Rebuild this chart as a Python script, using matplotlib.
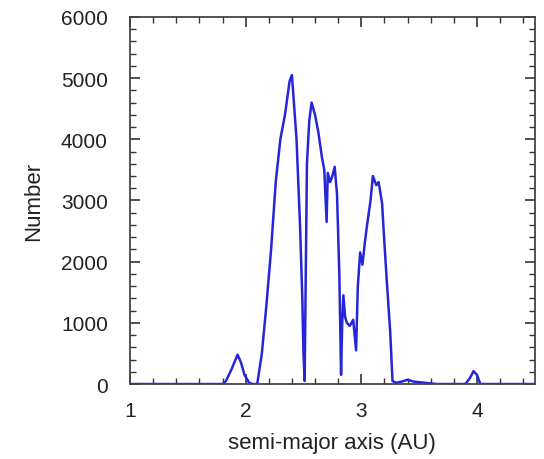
import numpy as np
import matplotlib
matplotlib.use("Agg")
import matplotlib.pyplot as plt
from matplotlib.ticker import MultipleLocator

plt.rcParams['font.family'] = ['Liberation Sans', 'DejaVu Sans']

# semi-major axis (AU) and number of asteroids
semieje = [1.0, 1.8, 1.83, 1.88, 1.93, 1.96, 1.99, 2.03, 2.06, 2.10, 2.14, 2.18,
           2.22, 2.26, 2.30, 2.34, 2.38, 2.40, 2.44, 2.47, 2.49, 2.50, 2.51, 2.53,
           2.55, 2.57, 2.60, 2.63, 2.66, 2.68, 2.70, 2.71, 2.73, 2.75, 2.77, 2.79,
           2.81, 2.825, 2.835, 2.845, 2.86, 2.875, 2.90, 2.93, 2.955, 2.97, 2.99,
           3.01, 3.03, 3.05, 3.08, 3.10, 3.13, 3.15, 3.18, 3.20, 3.22, 3.25, 3.27,
           3.30, 3.35, 3.40, 3.45, 3.55, 3.65, 3.90, 3.94, 3.97, 4.00, 4.03, 4.5]
numero = [0, 0, 50, 250, 480, 350, 150, 20, 0, 0, 500, 1300,
          2200, 3300, 4000, 4400, 4950, 5050, 4000, 2600, 1400, 500, 50, 3600,
          4300, 4600, 4400, 4100, 3700, 3500, 2650, 3450, 3300, 3400, 3550, 3100,
          1800, 150, 1000, 1450, 1100, 1000, 950, 1050, 550, 1600, 2150,
          1950, 2300, 2600, 3000, 3400, 3250, 3300, 2950, 2300, 1700, 850, 50,
          20, 40, 70, 40, 20, 0, 0, 100, 210, 150, 0, 0]

fig = plt.figure(figsize=(5.44, 4.6), dpi=100)
ax = fig.add_axes([0.239, 0.163, 0.744, 0.798])
ax.plot(semieje, numero, color='#2626d9', lw=1.8)

ax.set_xlim(1, 4.5)
ax.set_ylim(0, 6000)
ax.xaxis.set_major_locator(MultipleLocator(1))
ax.xaxis.set_minor_locator(MultipleLocator(0.2))
ax.yaxis.set_major_locator(MultipleLocator(1000))
ax.yaxis.set_minor_locator(MultipleLocator(200))
ax.tick_params(which='both', direction='in', top=True, right=True,
               colors='#333333', labelcolor='#222222', labelsize=15)
ax.tick_params(which='major', length=7, width=1.2)
ax.tick_params(axis='y', which='major', pad=16)
ax.tick_params(axis='x', which='major', pad=12)
ax.tick_params(which='minor', length=4, width=1)
for s in ax.spines.values():
    s.set_color('#444444')
    s.set_linewidth(1.3)

ax.set_xlabel('semi-major axis (AU)', fontsize=16, color='#222222', labelpad=9)
ax.set_ylabel('Number', fontsize=16, color='#222222', labelpad=12)

fig.savefig('out.png', dpi=100)
